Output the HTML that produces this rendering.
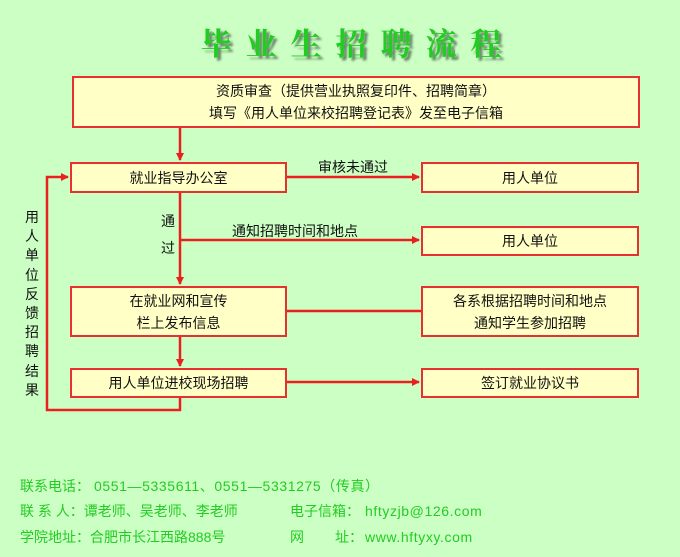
<!DOCTYPE html>
<html><head><meta charset="utf-8"><style>
body{margin:0;width:680px;height:557px;background:#ccffc4;overflow:hidden;position:relative;font-family:"Liberation Sans","Noto Sans CJK SC",sans-serif;}
.b{position:absolute;background:#ffffc6;border:2px solid #e83030;box-sizing:border-box;display:flex;align-items:center;justify-content:center;text-align:center;font-size:14px;line-height:22px;color:#111;}
.t{position:absolute;font-size:14px;color:#111;}
.title{position:absolute;left:18px;width:680px;top:19px;text-align:center;font-size:31px;font-weight:bold;color:#22cc22;letter-spacing:14px;text-shadow:3px 3px 2px #668866;font-family:"Noto Serif CJK SC","Noto Sans CJK SC",serif;}
.f{position:absolute;font-size:14px;line-height:16px;color:#22cc22;white-space:pre;}
.m{letter-spacing:0.6px;}
</style></head><body>
<div class="title">毕业生招聘流程</div>
<svg width="680" height="557" style="position:absolute;left:0;top:0">
<defs><marker id="a" markerWidth="8" markerHeight="8" refX="7" refY="4" orient="auto" markerUnits="userSpaceOnUse"><path d="M0,0 L8,4 L0,8 z" fill="#e82020"/></marker></defs>
<g stroke="#e82020" stroke-width="2.5" fill="none">
<line x1="180" y1="128" x2="180" y2="160" marker-end="url(#a)"/>
<line x1="180" y1="193" x2="180" y2="284" marker-end="url(#a)"/>
<line x1="180" y1="337" x2="180" y2="366" marker-end="url(#a)"/>
<line x1="287" y1="177" x2="419" y2="177" marker-end="url(#a)"/>
<line x1="180" y1="240" x2="419" y2="240" marker-end="url(#a)"/>
<line x1="287" y1="311" x2="421" y2="311"/>
<line x1="287" y1="382" x2="419" y2="382" marker-end="url(#a)"/>
<polyline points="180,398 180,410 47,410 47,177 68,177" marker-end="url(#a)"/>
</g></svg>
<div class="b" style="left:72px;top:76px;width:568px;height:52px">资质审查（提供营业执照复印件、招聘简章）<br>填写《用人单位来校招聘登记表》发至电子信箱</div>
<div class="b" style="left:70px;top:162px;width:217px;height:31px">就业指导办公室</div>
<div class="b" style="left:421px;top:162px;width:218px;height:31px">用人单位</div>
<div class="b" style="left:421px;top:226px;width:218px;height:30px">用人单位</div>
<div class="b" style="left:70px;top:286px;width:217px;height:51px">在就业网和宣传<br>栏上发布信息</div>
<div class="b" style="left:421px;top:286px;width:218px;height:51px">各系根据招聘时间和地点<br>通知学生参加招聘</div>
<div class="b" style="left:70px;top:368px;width:217px;height:30px">用人单位进校现场招聘</div>
<div class="b" style="left:421px;top:368px;width:218px;height:30px">签订就业协议书</div>
<div class="t" style="left:318px;top:157px">审核未通过</div>
<div class="t" style="left:232px;top:221px">通知招聘时间和地点</div>
<div class="t" style="left:161px;top:211px">通</div>
<div class="t" style="left:161px;top:238px">过</div>
<div class="t" style="left:25px;top:208px;width:16px;line-height:19.2px">用人单位反馈招聘结果</div>
<div class="f" style="left:20px;top:478px">联系电话：</div>
<div class="f m" style="left:94px;top:478px">0551—5335611、0551—5331275（传真）</div>
<div class="f" style="left:20px;top:503px">联 系 人：谭老师、吴老师、李老师</div>
<div class="f" style="left:290px;top:503px">电子信箱：</div>
<div class="f m" style="left:365px;top:503px">hftyzjb@126.com</div>
<div class="f" style="left:20px;top:529px">学院地址：合肥市长江西路888号</div>
<div class="f" style="left:290px;top:529px">网</div>
<div class="f" style="left:335px;top:529px">址：</div>
<div class="f m" style="left:365px;top:529px">www.hftyxy.com</div>
</body></html>
